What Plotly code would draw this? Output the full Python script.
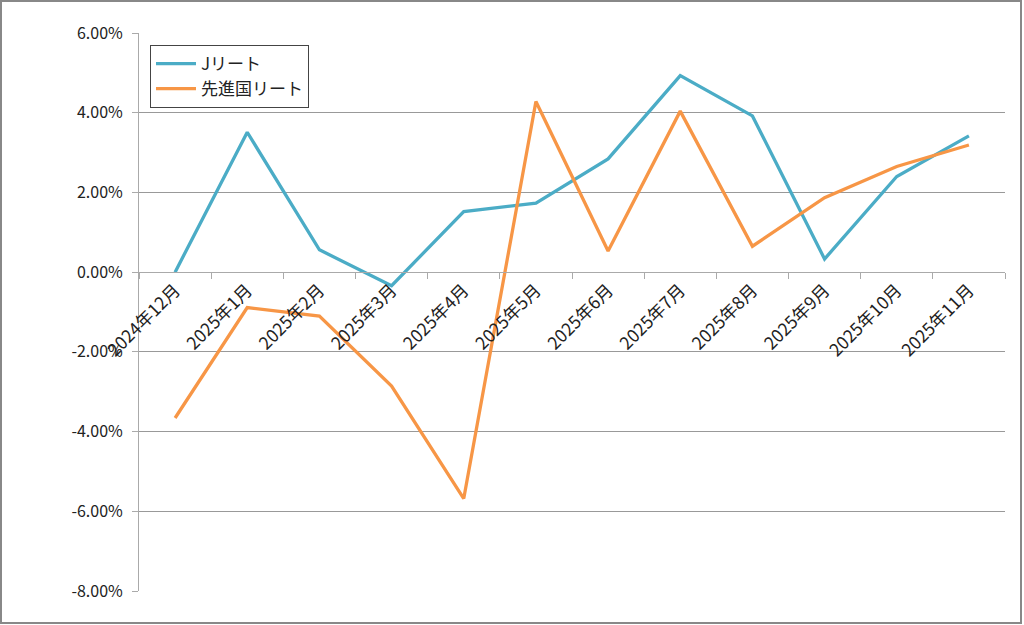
import plotly.graph_objects as go

categories = ["2024年12月", "2025年1月", "2025年2月", "2025年3月", "2025年4月", "2025年5月",
              "2025年6月", "2025年7月", "2025年8月", "2025年9月", "2025年10月", "2025年11月"]
j_reit = [0.00, 3.51, 0.56, -0.34, 1.52, 1.73, 2.84, 4.93, 3.92, 0.33, 2.40, 3.42]
dev_reit = [-3.66, -0.89, -1.10, -2.86, -5.68, 4.28, 0.53, 4.04, 0.65, 1.87, 2.65, 3.19]
y_ticks = [-8, -6, -4, -2, 0, 2, 4, 6]

FONT = "Noto Sans CJK JP, Noto Sans, sans-serif"

fig = go.Figure()
fig.add_trace(go.Scatter(x=categories, y=j_reit, mode="lines", name="Jリート",
                         line=dict(color="#4BACC6", width=3.3)))
fig.add_trace(go.Scatter(x=categories, y=dev_reit, mode="lines", name="先進国リート",
                         line=dict(color="#F79646", width=3.3)))

L, R, T, B = 139, 19, 33, 34
W, H = 1024, 625
pw, ph = W - L - R, H - T - B

fig.update_layout(
    width=W, height=H,
    margin=dict(l=L, r=R, t=T, b=B),
    paper_bgcolor="white", plot_bgcolor="white",
    font=dict(family=FONT, size=16, color="#222222"),
    showlegend=True,
    legend=dict(x=(150 - L) / pw, y=(H - B - 45) / ph, xanchor="left", yanchor="top",
                bordercolor="#444444", borderwidth=1, bgcolor="white",
                font=dict(size=17, family=FONT), tracegroupgap=2, itemwidth=40),
    xaxis=dict(
        type="category", anchor="free", position=8 / 14,
        showline=True, linecolor="#aaaaaa", linewidth=1,
        ticks="outside", ticklen=6, tickcolor="#aaaaaa", tickson="boundaries",
        tickangle=-45, showgrid=False, zeroline=False,
        tickfont=dict(size=17.5, family=FONT, color="#222222"),
        range=[-0.5, len(categories) - 0.5],
    ),
    yaxis=dict(
        range=[-8, 6], tickvals=y_ticks,
        ticktext=[f"{v:.2f}%" for v in y_ticks],
        showline=True, linecolor="#aaaaaa", linewidth=1,
        ticks="outside", ticklen=6, tickcolor="#aaaaaa",
        ticklabelstandoff=6,
        showgrid=True, gridcolor="#999999", gridwidth=1, zeroline=False,
        tickfont=dict(size=16, family=FONT, color="#222222"),
    ),
)

# outer chart border
fig.add_shape(type="rect", xref="paper", yref="paper",
              x0=(1 - L) / pw, x1=(1021 - L) / pw,
              y0=(H - B - 623) / ph, y1=(H - B - 1) / ph,
              line=dict(color="#888888", width=2), layer="below")

fig.write_html("out.html", config={"displayModeBar": False},
               post_script="document.body.style.margin='0';document.body.style.overflow='hidden';")
